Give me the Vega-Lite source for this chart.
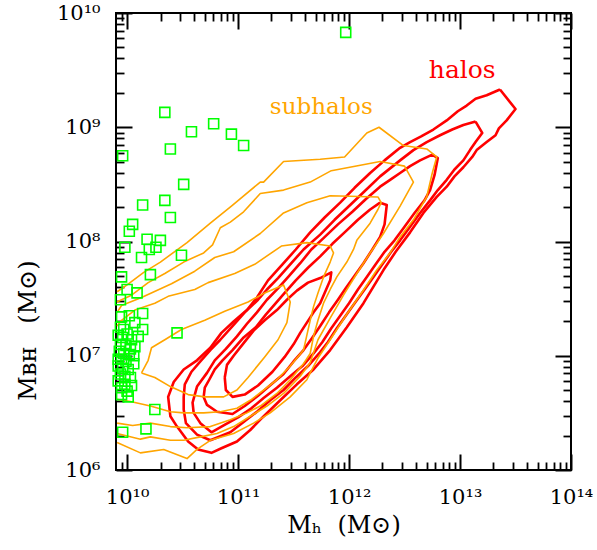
{
"$schema":"https://vega.github.io/schema/vega-lite/v6.json",
"width":455,"height":457,
"autosize":{"type":"none"},
"padding":{"left":116,"top":13,"right":26,"bottom":80},
"background":"white",
"datasets":{
"halos":[
{"c":"R1","i":0,"logMh":13.36,"logMBH":9.33},{"c":"R1","i":1,"logMh":13.24,"logMBH":9.28},{"c":"R1","i":2,"logMh":13.14,"logMBH":9.25},{"c":"R1","i":3,"logMh":13.06,"logMBH":9.19},{"c":"R1","i":4,"logMh":12.98,"logMBH":9.14},{"c":"R1","i":5,"logMh":12.88,"logMBH":9.06},{"c":"R1","i":6,"logMh":12.76,"logMBH":8.98},{"c":"R1","i":7,"logMh":12.65,"logMBH":8.92},{"c":"R1","i":8,"logMh":12.55,"logMBH":8.87},{"c":"R1","i":9,"logMh":12.46,"logMBH":8.82},{"c":"R1","i":10,"logMh":12.32,"logMBH":8.71},{"c":"R1","i":11,"logMh":12.19,"logMBH":8.60},{"c":"R1","i":12,"logMh":12.05,"logMBH":8.47},{"c":"R1","i":13,"logMh":11.92,"logMBH":8.34},{"c":"R1","i":14,"logMh":11.78,"logMBH":8.21},{"c":"R1","i":15,"logMh":11.65,"logMBH":8.08},{"c":"R1","i":16,"logMh":11.52,"logMBH":7.93},{"c":"R1","i":17,"logMh":11.40,"logMBH":7.80},{"c":"R1","i":18,"logMh":11.27,"logMBH":7.66},{"c":"R1","i":19,"logMh":11.17,"logMBH":7.51},{"c":"R1","i":20,"logMh":11.08,"logMBH":7.40},{"c":"R1","i":21,"logMh":10.96,"logMBH":7.30},{"c":"R1","i":22,"logMh":10.85,"logMBH":7.20},{"c":"R1","i":23,"logMh":10.75,"logMBH":7.07},{"c":"R1","i":24,"logMh":10.63,"logMBH":6.96},{"c":"R1","i":25,"logMh":10.51,"logMBH":6.88},{"c":"R1","i":26,"logMh":10.42,"logMBH":6.77},{"c":"R1","i":27,"logMh":10.37,"logMBH":6.64},{"c":"R1","i":28,"logMh":10.39,"logMBH":6.47},{"c":"R1","i":29,"logMh":10.45,"logMBH":6.38},{"c":"R1","i":30,"logMh":10.55,"logMBH":6.25},{"c":"R1","i":31,"logMh":10.64,"logMBH":6.18},{"c":"R1","i":32,"logMh":10.76,"logMBH":6.15},{"c":"R1","i":33,"logMh":10.85,"logMBH":6.19},{"c":"R1","i":34,"logMh":10.99,"logMBH":6.25},{"c":"R1","i":35,"logMh":11.11,"logMBH":6.35},{"c":"R1","i":36,"logMh":11.22,"logMBH":6.46},{"c":"R1","i":37,"logMh":11.38,"logMBH":6.61},{"c":"R1","i":38,"logMh":11.53,"logMBH":6.75},{"c":"R1","i":39,"logMh":11.68,"logMBH":6.88},{"c":"R1","i":40,"logMh":11.83,"logMBH":7.05},{"c":"R1","i":41,"logMh":11.98,"logMBH":7.25},{"c":"R1","i":42,"logMh":12.13,"logMBH":7.46},{"c":"R1","i":43,"logMh":12.31,"logMBH":7.75},{"c":"R1","i":44,"logMh":12.42,"logMBH":7.91},{"c":"R1","i":45,"logMh":12.55,"logMBH":8.08},{"c":"R1","i":46,"logMh":12.67,"logMBH":8.25},{"c":"R1","i":47,"logMh":12.79,"logMBH":8.39},{"c":"R1","i":48,"logMh":12.88,"logMBH":8.48},{"c":"R1","i":49,"logMh":12.95,"logMBH":8.57},{"c":"R1","i":50,"logMh":13.03,"logMBH":8.65},{"c":"R1","i":51,"logMh":13.11,"logMBH":8.74},{"c":"R1","i":52,"logMh":13.15,"logMBH":8.80},{"c":"R1","i":53,"logMh":13.24,"logMBH":8.87},{"c":"R1","i":54,"logMh":13.32,"logMBH":8.93},{"c":"R1","i":55,"logMh":13.35,"logMBH":8.99},{"c":"R1","i":56,"logMh":13.42,"logMBH":9.06},{"c":"R1","i":57,"logMh":13.50,"logMBH":9.16},{"c":"R1","i":58,"logMh":13.36,"logMBH":9.33},
{"c":"R2","i":0,"logMh":13.14,"logMBH":9.05},{"c":"R2","i":1,"logMh":13.03,"logMBH":9.02},{"c":"R2","i":2,"logMh":12.93,"logMBH":8.98},{"c":"R2","i":3,"logMh":12.82,"logMBH":8.93},{"c":"R2","i":4,"logMh":12.70,"logMBH":8.87},{"c":"R2","i":5,"logMh":12.58,"logMBH":8.80},{"c":"R2","i":6,"logMh":12.46,"logMBH":8.71},{"c":"R2","i":7,"logMh":12.28,"logMBH":8.57},{"c":"R2","i":8,"logMh":12.14,"logMBH":8.44},{"c":"R2","i":9,"logMh":12.01,"logMBH":8.32},{"c":"R2","i":10,"logMh":11.87,"logMBH":8.19},{"c":"R2","i":11,"logMh":11.74,"logMBH":8.06},{"c":"R2","i":12,"logMh":11.59,"logMBH":7.93},{"c":"R2","i":13,"logMh":11.47,"logMBH":7.80},{"c":"R2","i":14,"logMh":11.36,"logMBH":7.68},{"c":"R2","i":15,"logMh":11.26,"logMBH":7.58},{"c":"R2","i":16,"logMh":11.18,"logMBH":7.49},{"c":"R2","i":17,"logMh":11.06,"logMBH":7.38},{"c":"R2","i":18,"logMh":10.95,"logMBH":7.26},{"c":"R2","i":19,"logMh":10.84,"logMBH":7.14},{"c":"R2","i":20,"logMh":10.75,"logMBH":7.05},{"c":"R2","i":21,"logMh":10.66,"logMBH":6.95},{"c":"R2","i":22,"logMh":10.58,"logMBH":6.86},{"c":"R2","i":23,"logMh":10.52,"logMBH":6.75},{"c":"R2","i":24,"logMh":10.51,"logMBH":6.64},{"c":"R2","i":25,"logMh":10.51,"logMBH":6.53},{"c":"R2","i":26,"logMh":10.53,"logMBH":6.41},{"c":"R2","i":27,"logMh":10.63,"logMBH":6.31},{"c":"R2","i":28,"logMh":10.75,"logMBH":6.26},{"c":"R2","i":29,"logMh":10.93,"logMBH":6.33},{"c":"R2","i":30,"logMh":11.05,"logMBH":6.42},{"c":"R2","i":31,"logMh":11.17,"logMBH":6.51},{"c":"R2","i":32,"logMh":11.29,"logMBH":6.61},{"c":"R2","i":33,"logMh":11.41,"logMBH":6.70},{"c":"R2","i":34,"logMh":11.52,"logMBH":6.81},{"c":"R2","i":35,"logMh":11.63,"logMBH":6.91},{"c":"R2","i":36,"logMh":11.73,"logMBH":7.02},{"c":"R2","i":37,"logMh":11.81,"logMBH":7.12},{"c":"R2","i":38,"logMh":11.89,"logMBH":7.24},{"c":"R2","i":39,"logMh":11.97,"logMBH":7.35},{"c":"R2","i":40,"logMh":12.05,"logMBH":7.46},{"c":"R2","i":41,"logMh":12.14,"logMBH":7.58},{"c":"R2","i":42,"logMh":12.22,"logMBH":7.69},{"c":"R2","i":43,"logMh":12.30,"logMBH":7.80},{"c":"R2","i":44,"logMh":12.38,"logMBH":7.91},{"c":"R2","i":45,"logMh":12.46,"logMBH":8.01},{"c":"R2","i":46,"logMh":12.55,"logMBH":8.13},{"c":"R2","i":47,"logMh":12.64,"logMBH":8.25},{"c":"R2","i":48,"logMh":12.73,"logMBH":8.36},{"c":"R2","i":49,"logMh":12.80,"logMBH":8.45},{"c":"R2","i":50,"logMh":12.88,"logMBH":8.54},{"c":"R2","i":51,"logMh":12.95,"logMBH":8.63},{"c":"R2","i":52,"logMh":13.03,"logMBH":8.71},{"c":"R2","i":53,"logMh":13.09,"logMBH":8.80},{"c":"R2","i":54,"logMh":13.14,"logMBH":8.87},{"c":"R2","i":55,"logMh":13.20,"logMBH":8.95},{"c":"R2","i":56,"logMh":13.14,"logMBH":9.05},
{"c":"R3","i":0,"logMh":12.75,"logMBH":8.76},{"c":"R3","i":1,"logMh":12.64,"logMBH":8.71},{"c":"R3","i":2,"logMh":12.55,"logMBH":8.66},{"c":"R3","i":3,"logMh":12.46,"logMBH":8.60},{"c":"R3","i":4,"logMh":12.37,"logMBH":8.54},{"c":"R3","i":5,"logMh":12.28,"logMBH":8.48},{"c":"R3","i":6,"logMh":12.15,"logMBH":8.37},{"c":"R3","i":7,"logMh":12.03,"logMBH":8.26},{"c":"R3","i":8,"logMh":11.90,"logMBH":8.15},{"c":"R3","i":9,"logMh":11.77,"logMBH":8.03},{"c":"R3","i":10,"logMh":11.66,"logMBH":7.93},{"c":"R3","i":11,"logMh":11.56,"logMBH":7.81},{"c":"R3","i":12,"logMh":11.46,"logMBH":7.70},{"c":"R3","i":13,"logMh":11.36,"logMBH":7.59},{"c":"R3","i":14,"logMh":11.26,"logMBH":7.49},{"c":"R3","i":15,"logMh":11.17,"logMBH":7.38},{"c":"R3","i":16,"logMh":11.08,"logMBH":7.28},{"c":"R3","i":17,"logMh":10.99,"logMBH":7.17},{"c":"R3","i":18,"logMh":10.89,"logMBH":7.06},{"c":"R3","i":19,"logMh":10.79,"logMBH":6.96},{"c":"R3","i":20,"logMh":10.72,"logMBH":6.85},{"c":"R3","i":21,"logMh":10.63,"logMBH":6.73},{"c":"R3","i":22,"logMh":10.59,"logMBH":6.59},{"c":"R3","i":23,"logMh":10.60,"logMBH":6.50},{"c":"R3","i":24,"logMh":10.66,"logMBH":6.41},{"c":"R3","i":25,"logMh":10.76,"logMBH":6.33},{"c":"R3","i":26,"logMh":10.87,"logMBH":6.39},{"c":"R3","i":27,"logMh":11.00,"logMBH":6.46},{"c":"R3","i":28,"logMh":11.12,"logMBH":6.54},{"c":"R3","i":29,"logMh":11.23,"logMBH":6.63},{"c":"R3","i":30,"logMh":11.35,"logMBH":6.72},{"c":"R3","i":31,"logMh":11.47,"logMBH":6.82},{"c":"R3","i":32,"logMh":11.58,"logMBH":6.91},{"c":"R3","i":33,"logMh":11.68,"logMBH":7.02},{"c":"R3","i":34,"logMh":11.76,"logMBH":7.12},{"c":"R3","i":35,"logMh":11.84,"logMBH":7.24},{"c":"R3","i":36,"logMh":11.92,"logMBH":7.35},{"c":"R3","i":37,"logMh":12.00,"logMBH":7.46},{"c":"R3","i":38,"logMh":12.08,"logMBH":7.58},{"c":"R3","i":39,"logMh":12.16,"logMBH":7.69},{"c":"R3","i":40,"logMh":12.24,"logMBH":7.80},{"c":"R3","i":41,"logMh":12.32,"logMBH":7.91},{"c":"R3","i":42,"logMh":12.41,"logMBH":8.01},{"c":"R3","i":43,"logMh":12.50,"logMBH":8.13},{"c":"R3","i":44,"logMh":12.59,"logMBH":8.25},{"c":"R3","i":45,"logMh":12.68,"logMBH":8.36},{"c":"R3","i":46,"logMh":12.73,"logMBH":8.45},{"c":"R3","i":47,"logMh":12.77,"logMBH":8.58},{"c":"R3","i":48,"logMh":12.80,"logMBH":8.73},{"c":"R3","i":49,"logMh":12.75,"logMBH":8.76},
{"c":"R4","i":0,"logMh":12.28,"logMBH":8.34},{"c":"R4","i":1,"logMh":12.19,"logMBH":8.28},{"c":"R4","i":2,"logMh":12.08,"logMBH":8.19},{"c":"R4","i":3,"logMh":11.96,"logMBH":8.08},{"c":"R4","i":4,"logMh":11.85,"logMBH":7.98},{"c":"R4","i":5,"logMh":11.74,"logMBH":7.87},{"c":"R4","i":6,"logMh":11.63,"logMBH":7.77},{"c":"R4","i":7,"logMh":11.52,"logMBH":7.66},{"c":"R4","i":8,"logMh":11.42,"logMBH":7.55},{"c":"R4","i":9,"logMh":11.34,"logMBH":7.46},{"c":"R4","i":10,"logMh":11.25,"logMBH":7.36},{"c":"R4","i":11,"logMh":11.16,"logMBH":7.25},{"c":"R4","i":12,"logMh":11.05,"logMBH":7.16},{"c":"R4","i":13,"logMh":10.95,"logMBH":7.05},{"c":"R4","i":14,"logMh":10.86,"logMBH":6.96},{"c":"R4","i":15,"logMh":10.79,"logMBH":6.88},{"c":"R4","i":16,"logMh":10.74,"logMBH":6.79},{"c":"R4","i":17,"logMh":10.70,"logMBH":6.72},{"c":"R4","i":18,"logMh":10.69,"logMBH":6.64},{"c":"R4","i":19,"logMh":10.72,"logMBH":6.57},{"c":"R4","i":20,"logMh":10.81,"logMBH":6.51},{"c":"R4","i":21,"logMh":10.95,"logMBH":6.49},{"c":"R4","i":22,"logMh":11.06,"logMBH":6.56},{"c":"R4","i":23,"logMh":11.18,"logMBH":6.65},{"c":"R4","i":24,"logMh":11.30,"logMBH":6.75},{"c":"R4","i":25,"logMh":11.41,"logMBH":6.84},{"c":"R4","i":26,"logMh":11.50,"logMBH":6.95},{"c":"R4","i":27,"logMh":11.59,"logMBH":7.05},{"c":"R4","i":28,"logMh":11.67,"logMBH":7.16},{"c":"R4","i":29,"logMh":11.74,"logMBH":7.26},{"c":"R4","i":30,"logMh":11.82,"logMBH":7.38},{"c":"R4","i":31,"logMh":11.90,"logMBH":7.49},{"c":"R4","i":32,"logMh":11.97,"logMBH":7.59},{"c":"R4","i":33,"logMh":12.05,"logMBH":7.70},{"c":"R4","i":34,"logMh":12.13,"logMBH":7.81},{"c":"R4","i":35,"logMh":12.21,"logMBH":7.93},{"c":"R4","i":36,"logMh":12.28,"logMBH":8.04},{"c":"R4","i":37,"logMh":12.32,"logMBH":8.15},{"c":"R4","i":38,"logMh":12.34,"logMBH":8.32},{"c":"R4","i":39,"logMh":12.28,"logMBH":8.34},
{"c":"R5","i":0,"logMh":10.88,"logMBH":6.81},{"c":"R5","i":1,"logMh":10.90,"logMBH":6.92},{"c":"R5","i":2,"logMh":10.96,"logMBH":7.00},{"c":"R5","i":3,"logMh":11.05,"logMBH":7.11},{"c":"R5","i":4,"logMh":11.14,"logMBH":7.22},{"c":"R5","i":5,"logMh":11.24,"logMBH":7.31},{"c":"R5","i":6,"logMh":11.35,"logMBH":7.40},{"c":"R5","i":7,"logMh":11.44,"logMBH":7.49},{"c":"R5","i":8,"logMh":11.53,"logMBH":7.57},{"c":"R5","i":9,"logMh":11.63,"logMBH":7.64},{"c":"R5","i":10,"logMh":11.74,"logMBH":7.68},{"c":"R5","i":11,"logMh":11.84,"logMBH":7.73},{"c":"R5","i":12,"logMh":11.83,"logMBH":7.66},{"c":"R5","i":13,"logMh":11.78,"logMBH":7.55},{"c":"R5","i":14,"logMh":11.74,"logMBH":7.46},{"c":"R5","i":15,"logMh":11.68,"logMBH":7.38},{"c":"R5","i":16,"logMh":11.62,"logMBH":7.29},{"c":"R5","i":17,"logMh":11.56,"logMBH":7.20},{"c":"R5","i":18,"logMh":11.50,"logMBH":7.10},{"c":"R5","i":19,"logMh":11.42,"logMBH":6.99},{"c":"R5","i":20,"logMh":11.31,"logMBH":6.86},{"c":"R5","i":21,"logMh":11.18,"logMBH":6.74},{"c":"R5","i":22,"logMh":11.06,"logMBH":6.66},{"c":"R5","i":23,"logMh":10.95,"logMBH":6.64},{"c":"R5","i":24,"logMh":10.89,"logMBH":6.70},{"c":"R5","i":25,"logMh":10.88,"logMBH":6.81}
],
"subhalos":[
{"c":"O1","i":0,"logMh":10.13,"logMBH":6.85},{"c":"O1","i":1,"logMh":10.19,"logMBH":6.96},{"c":"O1","i":2,"logMh":10.22,"logMBH":7.07},{"c":"O1","i":3,"logMh":10.34,"logMBH":7.14},{"c":"O1","i":4,"logMh":10.49,"logMBH":7.23},{"c":"O1","i":5,"logMh":10.70,"logMBH":7.31},{"c":"O1","i":6,"logMh":10.88,"logMBH":7.39},{"c":"O1","i":7,"logMh":11.09,"logMBH":7.47},{"c":"O1","i":8,"logMh":11.24,"logMBH":7.55},{"c":"O1","i":9,"logMh":11.41,"logMBH":7.62},{"c":"O1","i":10,"logMh":11.47,"logMBH":7.47},{"c":"O1","i":11,"logMh":11.44,"logMBH":7.29},{"c":"O1","i":12,"logMh":11.36,"logMBH":7.14},{"c":"O1","i":13,"logMh":11.24,"logMBH":6.99},{"c":"O1","i":14,"logMh":11.09,"logMBH":6.81},{"c":"O1","i":15,"logMh":10.99,"logMBH":6.70},{"c":"O1","i":16,"logMh":10.87,"logMBH":6.64},{"c":"O1","i":17,"logMh":10.70,"logMBH":6.64},{"c":"O1","i":18,"logMh":10.55,"logMBH":6.66},{"c":"O1","i":19,"logMh":10.39,"logMBH":6.73},{"c":"O1","i":20,"logMh":10.25,"logMBH":6.81},{"c":"O1","i":21,"logMh":10.13,"logMBH":6.85},
{"c":"O3","i":0,"logMh":9.91,"logMBH":7.26},{"c":"O3","i":1,"logMh":9.95,"logMBH":7.31},{"c":"O3","i":2,"logMh":10.07,"logMBH":7.40},{"c":"O3","i":3,"logMh":10.25,"logMBH":7.46},{"c":"O3","i":4,"logMh":10.37,"logMBH":7.52},{"c":"O3","i":5,"logMh":10.61,"logMBH":7.58},{"c":"O3","i":6,"logMh":10.73,"logMBH":7.64},{"c":"O3","i":7,"logMh":10.97,"logMBH":7.72},{"c":"O3","i":8,"logMh":11.15,"logMBH":7.80},{"c":"O3","i":9,"logMh":11.39,"logMBH":7.96},{"c":"O3","i":10,"logMh":11.62,"logMBH":7.99},{"c":"O3","i":11,"logMh":11.83,"logMBH":7.96},{"c":"O3","i":12,"logMh":11.86,"logMBH":7.90},{"c":"O3","i":13,"logMh":11.83,"logMBH":7.82},{"c":"O3","i":14,"logMh":11.77,"logMBH":7.69},{"c":"O3","i":15,"logMh":11.72,"logMBH":7.55},{"c":"O3","i":16,"logMh":11.68,"logMBH":7.43},{"c":"O3","i":17,"logMh":11.65,"logMBH":7.31},{"c":"O3","i":18,"logMh":11.62,"logMBH":7.18},{"c":"O3","i":19,"logMh":11.59,"logMBH":7.05},{"c":"O3","i":20,"logMh":11.47,"logMBH":6.91},{"c":"O3","i":21,"logMh":11.35,"logMBH":6.79},{"c":"O3","i":22,"logMh":11.23,"logMBH":6.70},{"c":"O3","i":23,"logMh":11.11,"logMBH":6.61},{"c":"O3","i":24,"logMh":10.99,"logMBH":6.54},{"c":"O3","i":25,"logMh":10.84,"logMBH":6.51},{"c":"O3","i":26,"logMh":10.69,"logMBH":6.50},{"c":"O3","i":27,"logMh":10.51,"logMBH":6.50},{"c":"O3","i":28,"logMh":10.39,"logMBH":6.51},{"c":"O3","i":29,"logMh":10.21,"logMBH":6.56},{"c":"O3","i":30,"logMh":10.03,"logMBH":6.60},{"c":"O3","i":31,"logMh":9.91,"logMBH":6.62},
{"c":"O4","i":0,"logMh":9.91,"logMBH":7.38},{"c":"O4","i":1,"logMh":9.95,"logMBH":7.44},{"c":"O4","i":2,"logMh":10.13,"logMBH":7.51},{"c":"O4","i":3,"logMh":10.40,"logMBH":7.63},{"c":"O4","i":4,"logMh":10.61,"logMBH":7.74},{"c":"O4","i":5,"logMh":10.79,"logMBH":7.86},{"c":"O4","i":6,"logMh":10.96,"logMBH":7.91},{"c":"O4","i":7,"logMh":11.20,"logMBH":8.07},{"c":"O4","i":8,"logMh":11.41,"logMBH":8.25},{"c":"O4","i":9,"logMh":11.62,"logMBH":8.34},{"c":"O4","i":10,"logMh":11.83,"logMBH":8.40},{"c":"O4","i":11,"logMh":12.26,"logMBH":8.39},{"c":"O4","i":12,"logMh":12.29,"logMBH":8.34},{"c":"O4","i":13,"logMh":12.26,"logMBH":8.28},{"c":"O4","i":14,"logMh":12.19,"logMBH":8.16},{"c":"O4","i":15,"logMh":12.07,"logMBH":8.01},{"c":"O4","i":16,"logMh":12.04,"logMBH":7.93},{"c":"O4","i":17,"logMh":11.98,"logMBH":7.82},{"c":"O4","i":18,"logMh":11.89,"logMBH":7.69},{"c":"O4","i":19,"logMh":11.83,"logMBH":7.58},{"c":"O4","i":20,"logMh":11.77,"logMBH":7.46},{"c":"O4","i":21,"logMh":11.72,"logMBH":7.31},{"c":"O4","i":22,"logMh":11.68,"logMBH":7.17},{"c":"O4","i":23,"logMh":11.65,"logMBH":7.02},{"c":"O4","i":24,"logMh":11.59,"logMBH":6.93},{"c":"O4","i":25,"logMh":11.47,"logMBH":6.79},{"c":"O4","i":26,"logMh":11.35,"logMBH":6.67},{"c":"O4","i":27,"logMh":11.20,"logMBH":6.56},{"c":"O4","i":28,"logMh":11.08,"logMBH":6.50},{"c":"O4","i":29,"logMh":10.93,"logMBH":6.44},{"c":"O4","i":30,"logMh":10.75,"logMBH":6.38},{"c":"O4","i":31,"logMh":10.54,"logMBH":6.37},{"c":"O4","i":32,"logMh":10.39,"logMBH":6.38},{"c":"O4","i":33,"logMh":10.21,"logMBH":6.41},{"c":"O4","i":34,"logMh":10.05,"logMBH":6.39},{"c":"O4","i":35,"logMh":9.91,"logMBH":6.41},
{"c":"O5","i":0,"logMh":9.91,"logMBH":7.47},{"c":"O5","i":1,"logMh":9.95,"logMBH":7.49},{"c":"O5","i":2,"logMh":10.04,"logMBH":7.53},{"c":"O5","i":3,"logMh":10.19,"logMBH":7.64},{"c":"O5","i":4,"logMh":10.34,"logMBH":7.72},{"c":"O5","i":5,"logMh":10.51,"logMBH":7.82},{"c":"O5","i":6,"logMh":10.69,"logMBH":7.90},{"c":"O5","i":7,"logMh":10.77,"logMBH":7.97},{"c":"O5","i":8,"logMh":10.84,"logMBH":8.12},{"c":"O5","i":9,"logMh":10.93,"logMBH":8.17},{"c":"O5","i":10,"logMh":11.05,"logMBH":8.26},{"c":"O5","i":11,"logMh":11.20,"logMBH":8.42},{"c":"O5","i":12,"logMh":11.41,"logMBH":8.45},{"c":"O5","i":13,"logMh":11.65,"logMBH":8.52},{"c":"O5","i":14,"logMh":11.84,"logMBH":8.62},{"c":"O5","i":15,"logMh":12.28,"logMBH":8.70},{"c":"O5","i":16,"logMh":12.50,"logMBH":8.66},{"c":"O5","i":17,"logMh":12.58,"logMBH":8.52},{"c":"O5","i":18,"logMh":12.46,"logMBH":8.31},{"c":"O5","i":19,"logMh":12.31,"logMBH":8.07},{"c":"O5","i":20,"logMh":12.19,"logMBH":7.90},{"c":"O5","i":21,"logMh":12.07,"logMBH":7.72},{"c":"O5","i":22,"logMh":11.95,"logMBH":7.53},{"c":"O5","i":23,"logMh":11.83,"logMBH":7.33},{"c":"O5","i":24,"logMh":11.72,"logMBH":7.14},{"c":"O5","i":25,"logMh":11.65,"logMBH":6.94},{"c":"O5","i":26,"logMh":11.56,"logMBH":6.82},{"c":"O5","i":27,"logMh":11.41,"logMBH":6.67},{"c":"O5","i":28,"logMh":11.26,"logMBH":6.56},{"c":"O5","i":29,"logMh":11.11,"logMBH":6.47},{"c":"O5","i":30,"logMh":10.96,"logMBH":6.38},{"c":"O5","i":31,"logMh":10.81,"logMBH":6.32},{"c":"O5","i":32,"logMh":10.66,"logMBH":6.29},{"c":"O5","i":33,"logMh":10.51,"logMBH":6.26},{"c":"O5","i":34,"logMh":10.39,"logMBH":6.26},{"c":"O5","i":35,"logMh":10.21,"logMBH":6.29},{"c":"O5","i":36,"logMh":10.12,"logMBH":6.27},{"c":"O5","i":37,"logMh":9.91,"logMBH":6.32},
{"c":"O6","i":0,"logMh":9.91,"logMBH":7.56},{"c":"O6","i":1,"logMh":10.00,"logMBH":7.62},{"c":"O6","i":2,"logMh":10.15,"logMBH":7.73},{"c":"O6","i":3,"logMh":10.30,"logMBH":7.82},{"c":"O6","i":4,"logMh":10.54,"logMBH":7.99},{"c":"O6","i":5,"logMh":10.75,"logMBH":8.16},{"c":"O6","i":6,"logMh":10.94,"logMBH":8.31},{"c":"O6","i":7,"logMh":11.20,"logMBH":8.52},{"c":"O6","i":8,"logMh":11.23,"logMBH":8.52},{"c":"O6","i":9,"logMh":11.41,"logMBH":8.70},{"c":"O6","i":10,"logMh":11.74,"logMBH":8.72},{"c":"O6","i":11,"logMh":11.96,"logMBH":8.74},{"c":"O6","i":12,"logMh":12.16,"logMBH":8.95},{"c":"O6","i":13,"logMh":12.27,"logMBH":9.00},{"c":"O6","i":14,"logMh":12.49,"logMBH":8.84},{"c":"O6","i":15,"logMh":12.70,"logMBH":8.81},{"c":"O6","i":16,"logMh":12.79,"logMBH":8.74},{"c":"O6","i":17,"logMh":12.75,"logMBH":8.60},{"c":"O6","i":18,"logMh":12.70,"logMBH":8.39},{"c":"O6","i":19,"logMh":12.58,"logMBH":8.19},{"c":"O6","i":20,"logMh":12.46,"logMBH":8.04},{"c":"O6","i":21,"logMh":12.37,"logMBH":7.90},{"c":"O6","i":22,"logMh":12.25,"logMBH":7.75},{"c":"O6","i":23,"logMh":12.12,"logMBH":7.56},{"c":"O6","i":24,"logMh":11.97,"logMBH":7.35},{"c":"O6","i":25,"logMh":11.83,"logMBH":7.14},{"c":"O6","i":26,"logMh":11.72,"logMBH":6.98},{"c":"O6","i":27,"logMh":11.65,"logMBH":6.85},{"c":"O6","i":28,"logMh":11.62,"logMBH":6.79},{"c":"O6","i":29,"logMh":11.47,"logMBH":6.64},{"c":"O6","i":30,"logMh":11.29,"logMBH":6.50},{"c":"O6","i":31,"logMh":11.14,"logMBH":6.41},{"c":"O6","i":32,"logMh":10.96,"logMBH":6.32},{"c":"O6","i":33,"logMh":10.75,"logMBH":6.26},{"c":"O6","i":34,"logMh":10.63,"logMBH":6.18},{"c":"O6","i":35,"logMh":10.54,"logMBH":6.10},{"c":"O6","i":36,"logMh":10.33,"logMBH":6.18},{"c":"O6","i":37,"logMh":10.12,"logMBH":6.15},{"c":"O6","i":38,"logMh":9.91,"logMBH":6.24}
],
"galaxies":[
{"logMh":11.97,"logMBH":9.83},{"logMh":10.34,"logMBH":9.13},{"logMh":10.58,"logMBH":8.96},{"logMh":10.78,"logMBH":9.03},{"logMh":10.94,"logMBH":8.94},{"logMh":11.05,"logMBH":8.84},{"logMh":10.39,"logMBH":8.81},{"logMh":9.96,"logMBH":8.75},{"logMh":10.51,"logMBH":8.50},{"logMh":10.34,"logMBH":8.36},{"logMh":10.14,"logMBH":8.32},{"logMh":10.39,"logMBH":8.21},{"logMh":10.05,"logMBH":8.15},{"logMh":10.02,"logMBH":8.09},{"logMh":9.98,"logMBH":7.95},{"logMh":10.18,"logMBH":8.02},{"logMh":10.30,"logMBH":8.01},{"logMh":10.20,"logMBH":7.93},{"logMh":10.26,"logMBH":7.95},{"logMh":10.13,"logMBH":7.86},{"logMh":10.49,"logMBH":7.88},{"logMh":9.95,"logMBH":7.69},{"logMh":10.21,"logMBH":7.71},{"logMh":10.00,"logMBH":7.58},{"logMh":10.09,"logMBH":7.55},{"logMh":9.94,"logMBH":7.49},{"logMh":10.14,"logMBH":7.37},{"logMh":9.95,"logMBH":7.34},{"logMh":10.02,"logMBH":7.35},{"logMh":10.07,"logMBH":7.29},{"logMh":10.14,"logMBH":7.23},{"logMh":10.45,"logMBH":7.20},{"logMh":10.25,"logMBH":6.53},{"logMh":10.17,"logMBH":6.36},{"logMh":9.96,"logMBH":6.33},{"logMh":10.01,"logMBH":6.64},{"logMh":9.98,"logMBH":6.75},{"logMh":10.06,"logMBH":6.93},{"logMh":10.07,"logMBH":7.08},
{"logMh":9.92,"logMBH":7.18},{"logMh":9.96,"logMBH":7.16},{"logMh":10.00,"logMBH":7.19},{"logMh":10.04,"logMBH":7.14},{"logMh":9.94,"logMBH":7.10},{"logMh":9.99,"logMBH":7.09},{"logMh":10.10,"logMBH":7.17},{"logMh":9.93,"logMBH":7.04},{"logMh":9.97,"logMBH":7.02},{"logMh":10.02,"logMBH":7.01},{"logMh":9.95,"logMBH":6.97},{"logMh":9.99,"logMBH":6.95},{"logMh":10.03,"logMBH":7.06},{"logMh":9.92,"logMBH":6.91},{"logMh":9.96,"logMBH":6.89},{"logMh":10.01,"logMBH":6.88},{"logMh":9.94,"logMBH":6.84},{"logMh":9.98,"logMBH":6.82},{"logMh":10.03,"logMBH":6.81},{"logMh":9.92,"logMBH":6.78},{"logMh":9.95,"logMBH":6.72},{"logMh":10.00,"logMBH":6.69},{"logMh":9.95,"logMBH":6.66},{"logMh":10.04,"logMBH":6.74},{"logMh":10.06,"logMBH":7.00},{"logMh":9.92,"logMBH":6.97},{"logMh":9.97,"logMBH":7.23},{"logMh":9.94,"logMBH":7.25}
],
"labels":[
{"label":"halos","logMh":13.02,"logMBH":9.43},
{"label":"subhalos","logMh":11.75,"logMBH":9.12}
]
},
"layer":[
{
"data":{"name":"halos"},
"mark":{"type":"line","color":"#ff0000","strokeWidth":2.6,"strokeJoin":"round","clip":true},
"encoding":{
"x":{"field":"logMh","type":"quantitative","scale":{"domain":[9.9,14],"nice":false,"zero":false},
"axis":{"orient":"bottom","values":[10,11,12,13,14],"tickSize":-16,"tickWidth":2,"labelPadding":32,"labelFontSize":21,"labelFlush":false,"labelOverlap":false,"labelExpr":"datum.value == 10 ? '10¹⁰' : datum.value == 11 ? '10¹¹' : datum.value == 12 ? '10¹²' : datum.value == 13 ? '10¹³' : '10¹⁴'","title":"Mₕ\u00a0\u00a0(M⊙)","titleFontSize":24,"titleFontWeight":"normal","titleY":62,"titleBaseline":"alphabetic"}},
"y":{"field":"logMBH","type":"quantitative","scale":{"domain":[6,10],"nice":false,"zero":false},
"axis":{"orient":"left","values":[6,7,8,9,10],"tickSize":-16,"tickWidth":2,"labelPadding":32,"labelFontSize":21,"labelFlush":false,"labelOverlap":false,"labelExpr":"datum.value == 6 ? '10⁶' : datum.value == 7 ? '10⁷' : datum.value == 8 ? '10⁸' : datum.value == 9 ? '10⁹' : '10¹⁰'","title":"Mʙʜ\u00a0\u00a0\u00a0(M⊙)","titleFontSize":24,"titleFontWeight":"normal","titleX":-88,"titleY":317,"titleAngle":270,"titleAlign":"center","titleBaseline":"middle"}},
"detail":{"field":"c","type":"nominal"},
"order":{"field":"i","type":"quantitative"}
}
},
{
"data":{"name":"subhalos"},
"mark":{"type":"line","color":"#ffa500","strokeWidth":1.6,"strokeJoin":"round","clip":true},
"encoding":{
"x":{"field":"logMh","type":"quantitative","scale":{"domain":[9.9,14],"nice":false,"zero":false},
"axis":{"orient":"bottom","values":[9.954,10.301,10.477,10.602,10.699,10.778,10.845,10.903,10.954,11.301,11.477,11.602,11.699,11.778,11.845,11.903,11.954,12.301,12.477,12.602,12.699,12.778,12.845,12.903,12.954,13.301,13.477,13.602,13.699,13.778,13.845,13.903,13.954],"tickSize":-8,"tickWidth":1.8,"labels":false,"title":null}},
"y":{"field":"logMBH","type":"quantitative","scale":{"domain":[6,10],"nice":false,"zero":false},
"axis":{"orient":"left","values":[6.301,6.477,6.602,6.699,6.778,6.845,6.903,6.954,7.301,7.477,7.602,7.699,7.778,7.845,7.903,7.954,8.301,8.477,8.602,8.699,8.778,8.845,8.903,8.954,9.301,9.477,9.602,9.699,9.778,9.845,9.903,9.954],"tickSize":-8,"tickWidth":1.8,"labels":false,"title":null}},
"detail":{"field":"c","type":"nominal"},
"order":{"field":"i","type":"quantitative"}
}
},
{
"data":{"name":"galaxies"},
"mark":{"type":"point","shape":"square","filled":false,"color":"#00ff00","strokeWidth":1.6,"size":100,"opacity":1},
"encoding":{
"x":{"field":"logMh","type":"quantitative","scale":{"domain":[9.9,14],"nice":false,"zero":false},
"axis":{"orient":"top","values":[10,11,12,13,14],"tickSize":-16,"tickWidth":2,"labels":false,"title":null}},
"y":{"field":"logMBH","type":"quantitative","scale":{"domain":[6,10],"nice":false,"zero":false},
"axis":{"orient":"right","values":[6,7,8,9,10],"tickSize":-16,"tickWidth":2,"labels":false,"title":null}}
}
},
{
"data":{"name":"labels"},
"mark":{"type":"text","font":"DejaVu Serif","align":"center","baseline":"alphabetic"},
"encoding":{
"x":{"field":"logMh","type":"quantitative","scale":{"domain":[9.9,14],"nice":false,"zero":false},
"axis":{"orient":"top","values":[9.954,10.301,10.477,10.602,10.699,10.778,10.845,10.903,10.954,11.301,11.477,11.602,11.699,11.778,11.845,11.903,11.954,12.301,12.477,12.602,12.699,12.778,12.845,12.903,12.954,13.301,13.477,13.602,13.699,13.778,13.845,13.903,13.954],"tickSize":-8,"tickWidth":1.8,"labels":false,"title":null}},
"y":{"field":"logMBH","type":"quantitative","scale":{"domain":[6,10],"nice":false,"zero":false},
"axis":{"orient":"right","values":[6.301,6.477,6.602,6.699,6.778,6.845,6.903,6.954,7.301,7.477,7.602,7.699,7.778,7.845,7.903,7.954,8.301,8.477,8.602,8.699,8.778,8.845,8.903,8.954,9.301,9.477,9.602,9.699,9.778,9.845,9.903,9.954],"tickSize":-8,"tickWidth":1.8,"labels":false,"title":null}},
"text":{"field":"label","type":"nominal"},
"color":{"field":"label","type":"nominal","scale":{"domain":["halos","subhalos"],"range":["#ff0000","#ffa500"]},"legend":null},
"size":{"field":"label","type":"nominal","scale":{"domain":["halos","subhalos"],"range":[25,23]},"legend":null}
}
}
],
"resolve":{"axis":{"x":"independent","y":"independent"}},
"config":{
"view":{"stroke":"#000000","strokeWidth":2},
"axis":{"domain":false,"grid":false,"labelFont":"DejaVu Serif","titleFont":"DejaVu Serif","labelColor":"#000000","titleColor":"#000000","tickColor":"#000000"}
}
}
